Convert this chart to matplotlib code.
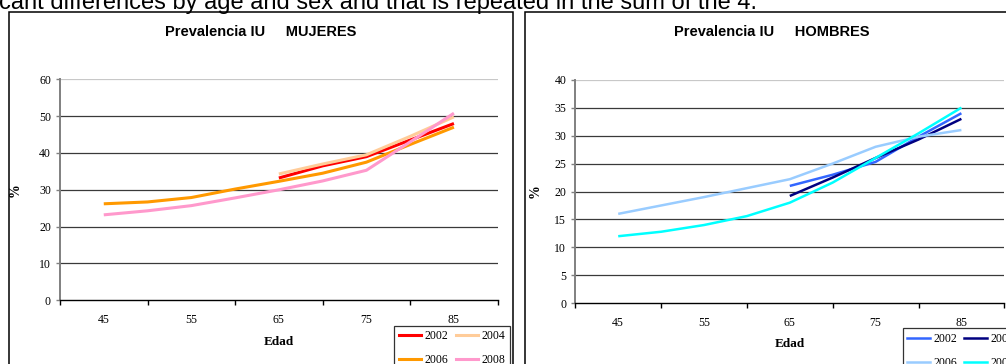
import numpy as np
import matplotlib
matplotlib.use("Agg")
import matplotlib.pyplot as plt
from matplotlib.patches import Rectangle
from matplotlib.lines import Line2D

# ---- data -------------------------------------------------------------
ages = [45, 50, 55, 60, 65, 70, 75, 80, 85]
age_labels = ["45", "55", "65", "75", "85"]
years = ["2002", "2004", "2006", "2008"]

nan = np.nan
mujeres_2002 = [nan, nan, nan, nan, 33.2, 36.5, 39.0, 43.5, 48.0]
mujeres_2004 = [nan, nan, nan, nan, 34.3, 37.0, 39.5, 44.5, 49.8]
mujeres_2006 = [26.2, 26.7, 27.9, 30.2, 32.3, 34.5, 37.5, 42.3, 47.0]
mujeres_2008 = [23.2, 24.3, 25.7, 27.8, 30.0, 32.4, 35.3, 43.0, 50.8]

hombres_2002 = [nan, nan, nan, nan, 21.0, 23.0, 25.3, 29.8, 34.0]
hombres_2004 = [nan, nan, nan, nan, 19.2, 22.5, 26.0, 29.3, 33.0]
hombres_2006 = [16.0, 17.5, 19.0, 20.6, 22.2, 25.0, 28.0, 29.8, 31.0]
hombres_2008 = [12.0, 12.8, 14.0, 15.6, 18.0, 21.6, 26.0, 30.4, 35.0]

colors_mujeres = ["#FF0000", "#FFCC99", "#FF9900", "#FF99CC"]
colors_hombres = ["#3366FF", "#000080", "#99CCFF", "#00FFFF"]

W, H = 1006, 364
SERIF = "Liberation Serif"
SANS = "Liberation Sans"

fig = plt.figure(figsize=(W / 100, H / 100), dpi=100)


def px_axes(left, top, right, bottom):
    return fig.add_axes([left / W, 1 - bottom / H, (right - left) / W, (bottom - top) / H])


def fig_box(left, top, right, bottom):
    fig.patches.append(Rectangle((left / W, 1 - bottom / H), (right - left) / W,
                                 (bottom - top) / H, transform=fig.transFigure,
                                 fill=False, edgecolor="black", linewidth=1.1))


# running text of the page above the charts
fig.text(-1 / W, 1 - 8.5 / H,
         "cant differences by age and sex and that is repeated in the sum of the 4.",
         family=SANS, fontsize=17, va="baseline", ha="left")

# chart frames
fig_box(9, 12, 512.7, 420)
fig_box(524.5, 12, 1018, 420)


def draw_panel(ax, series, colors, ymax, ystep, title, title_x, lw, ylab_x, xlab_y):
    ax.set_xlim(40, 90)
    ax.set_ylim(0, ymax)
    for vals, col in zip(series, colors):
        ax.plot(ages, vals, color=col, lw=lw, solid_capstyle="butt",
                solid_joinstyle="round", zorder=3)
    # horizontal gridlines
    for v in np.arange(ystep, ymax + 0.1, ystep):
        ax.axhline(v, color="#c8c8c8" if v == ymax else "#3a3a3a",
                   lw=0.9, zorder=1)
    for s in ("top", "right"):
        ax.spines[s].set_visible(False)
    ax.spines["left"].set_color("#808080")
    ax.spines["left"].set_linewidth(1.4)
    ax.spines["bottom"].set_color("black")
    ax.spines["bottom"].set_linewidth(1.0)
    ax.set_yticks(np.arange(0, ymax + 0.1, ystep))
    ax.set_yticklabels([f"{int(v)}" for v in np.arange(0, ymax + 0.1, ystep)])
    ax.tick_params(axis="y", direction="out", length=3, width=1, color="#808080",
                   pad=3.5, labelsize=8.5)
    # category boundaries carry the tick marks, labels sit between them
    ax.set_xticks([40, 50, 60, 70, 80, 90])
    ax.set_xticklabels([])
    ax.tick_params(axis="x", which="major", direction="out", length=3.4, width=1,
                   color="black")
    ax.set_xticks([45, 55, 65, 75, 85], minor=True)
    ax.set_xticklabels(age_labels, minor=True)
    ax.tick_params(axis="x", which="minor", length=0, pad=10, labelsize=8.5)
    for lab in ax.get_xticklabels(minor=True) + ax.get_yticklabels():
        lab.set_family(SERIF)
    ax.set_ylabel("%", family=SERIF, fontweight="bold", fontsize=10)
    ax.yaxis.set_label_coords(ylab_x, 0.5)
    ax.set_xlabel("Edad", family=SERIF, fontweight="bold", fontsize=9.5)
    ax.xaxis.set_label_coords(0.5, xlab_y)
    ax.xaxis.label.set_va("center")
    fig.text(title_x / W, 1 - 32 / H, title, family=SANS, fontweight="bold",
             fontsize=10.5, ha="center", va="center")
    ax.set_facecolor("none")


ax1 = px_axes(60, 79.3, 497.7, 300.3)
draw_panel(ax1, [mujeres_2002, mujeres_2004, mujeres_2006, mujeres_2008],
           colors_mujeres, 60, 10, "Prevalencia IU     MUJERES", 261, 2.2,
           -0.087, -0.189)

ax2 = px_axes(575.3, 79.7, 1004.3, 303.3)
draw_panel(ax2, [hombres_2002, hombres_2004, hombres_2006, hombres_2008],
           colors_hombres, 40, 5, "Prevalencia IU     HOMBRES", 771.5, 1.8,
           -0.078, -0.182)


def add_legend(colors, left, top, lw):
    handles = [Line2D([], [], color=c, lw=lw) for c in colors]
    # two columns filled column by column: keep 2002/2004 on the first row
    order = [0, 2, 1, 3]
    leg = fig.legend([handles[i] for i in order], [years[i] for i in order],
                     ncol=2, loc="upper left",
                     bbox_to_anchor=(left / W, 1 - top / H),
                     bbox_transform=fig.transFigure, borderaxespad=0,
                     prop={"family": SERIF, "size": 8.5}, frameon=True,
                     fancybox=False, edgecolor="black", handlelength=1.9,
                     handletextpad=0.3, columnspacing=0.6, labelspacing=1.0,
                     borderpad=0.4)
    leg.get_frame().set_linewidth(0.9)
    return leg


add_legend(colors_mujeres, 394, 325.7, 2.2)
add_legend(colors_hombres, 902.7, 328.3, 1.8)

fig.savefig("out.png", dpi=100)
